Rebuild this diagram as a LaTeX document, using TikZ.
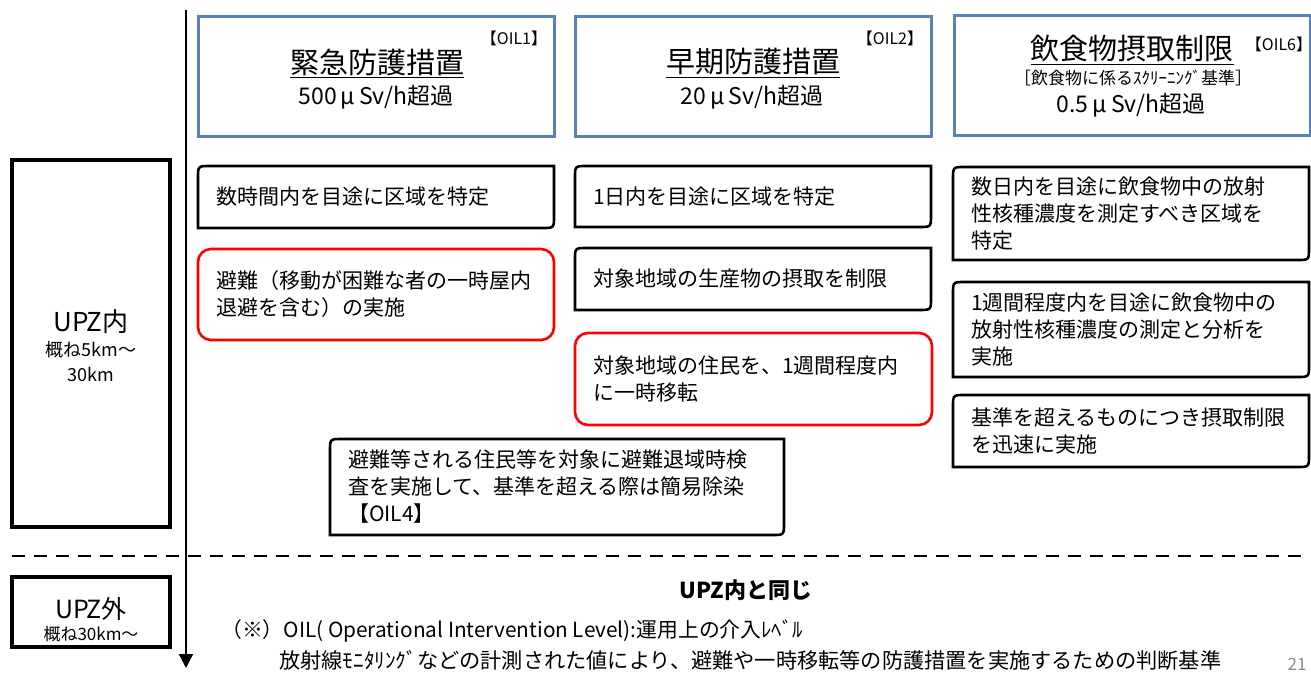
\documentclass[tikz,border=0pt]{standalone}
\usepackage{fontspec}
\setmainfont{Noto Sans CJK JP}
\usetikzlibrary{arrows.meta}
\definecolor{oilblue}{HTML}{5A82B8}
\definecolor{alertred}{HTML}{FF0000}
\newcommand{\fs}[2]{\fontsize{#1}{#2}\selectfont}
\newcommand{\diagframe}[1]{\draw[line width=2.6pt] ([yshift=-12pt]#1.north west) .. controls (#1.north west) .. ([xshift=12pt]#1.north west) -- (#1.north east) -- ([yshift=12pt]#1.south east) .. controls (#1.south east) .. ([xshift=-12pt]#1.south east) -- (#1.south west) -- cycle;}
\tikzset{
  actbox/.style={anchor=north west, inner xsep=18pt, inner ysep=0pt, outer sep=0pt, align=left, font=\fs{21}{27}},
  redbox/.style={actbox, draw=alertred, line width=2.6pt, rounded corners=13pt},
  oilbox/.style={anchor=north west, draw=oilblue, line width=3pt, inner sep=0pt, outer sep=0pt},
  zonebox/.style={anchor=north west, draw, line width=3.2pt, inner sep=0pt, outer sep=0pt},
  headtxt/.style={font=\fs{29}{32}, inner sep=0pt},
  valtxt/.style={font=\fs{23}{26}, inner sep=0pt},
  oiltag/.style={font=\fs{16}{18}, inner sep=0pt},
}
\begin{document}
\begin{tikzpicture}[x=1pt, y=-1pt]
\fill[white] (0,0) rectangle (1311,675);
\useasboundingbox (0,0) rectangle (1311,675);

% axis arrow and separator
\coordinate (axtop) at (186,10);
\coordinate (axbot) at (186,668);
\draw[line width=2pt, -{Triangle[length=14pt,width=14pt]}] (axtop) -- (axbot);
\coordinate (dl) at (12,556);
\coordinate (dr) at (1302,556);
\draw[line width=2.4pt, dash pattern=on 13pt off 9pt] (dl) -- (dr);

% header boxes
\node[oilbox, minimum width=356pt, minimum height=120pt] (h1) at (198,16) {};
\node[oilbox, minimum width=356pt, minimum height=120pt] (h2) at (575,16) {};
\node[oilbox, minimum width=356pt, minimum height=120pt] (h6) at (954,15) {};

\node[headtxt] (h1t) at (377,63) {\underline{緊急防護措置}};
\node[valtxt] (h1v) at (376,97) {500\kern4pt μ\kern4pt Sv/h超過};
\node[oiltag] (h1o) at (514,38) {【OIL1】};

\node[headtxt] (h2t) at (753,63) {\underline{早期防護措置}};
\node[valtxt] (h2v) at (752,97) {20\kern4pt μ\kern4pt Sv/h超過};
\node[oiltag] (h2o) at (890,38) {【OIL2】};

\node[headtxt] (h6t) at (1132,50) {\underline{飲食物摂取制限}};
\node[font=\fs{17}{18}, inner sep=0pt] (h6s) at (1133,78) {［飲食物に係るｽｸﾘｰﾆﾝｸﾞ基準］};
\node[valtxt] (h6v) at (1131,105) {0.5\kern4pt μ\kern4pt Sv/h超過};
\node[oiltag] (h6o) at (1279,44) {【OIL6】};

% zone boxes
\node[zonebox, minimum width=158pt, minimum height=367pt] (upzin) at (12,160) {};
\node[font=\fs{26}{28}, inner sep=0pt] (upzinA) at (91,322) {UPZ内};
\node[font=\fs{18}{20}, inner sep=0pt] (upzinB) at (91,350) {概ね5km〜};
\node[font=\fs{18}{20}, inner sep=0pt] (upzinC) at (91,374) {30km};

\node[zonebox, minimum width=158pt, minimum height=70pt] (upzout) at (12,577) {};
\node[font=\fs{25}{28}, inner sep=0pt] (upzoutA) at (91,609) {UPZ外};
\node[font=\fs{17}{20}, inner sep=0pt] (upzoutB) at (91,634) {概ね30km〜};

% OIL1 column
\node[actbox, minimum width=356pt, minimum height=62pt, text width=320pt] (b1a) at (198,166) {数時間内を目途に区域を特定};
\diagframe{b1a}
\node[redbox, minimum width=356pt, minimum height=91pt, text width=320pt] (b1b) at (198,249) {避難（移動が困難な者の一時屋内\\退避を含む）の実施};

% OIL2 column
\node[actbox, minimum width=356pt, minimum height=61pt, text width=320pt] (b2a) at (575,166) {1日内を目途に区域を特定};
\diagframe{b2a}
\node[actbox, minimum width=356pt, minimum height=62pt, text width=320pt] (b2b) at (575,248) {対象地域の生産物の摂取を制限};
\diagframe{b2b}
\node[redbox, minimum width=357pt, minimum height=92pt, text width=321pt] (b2c) at (575,333) {対象地域の住民を、1週間程度内\\に一時移転};

% OIL4
\node[actbox, minimum width=454pt, minimum height=96pt, text width=418pt] (b4) at (330,439) {避難等される住民等を対象に避難退域時検\\査を実施して、基準を超える際は簡易除染\\【OIL4】};
\diagframe{b4}

% OIL6 column
\node[actbox, minimum width=356pt, minimum height=93pt, text width=320pt] (b6a) at (953,167) {数日内を目途に飲食物中の放射\\性核種濃度を測定すべき区域を\\特定};
\diagframe{b6a}
\node[actbox, minimum width=356pt, minimum height=95pt, text width=320pt] (b6b) at (953,282) {1週間程度内を目途に飲食物中の\\放射性核種濃度の測定と分析を\\実施};
\diagframe{b6b}
\node[actbox, minimum width=356pt, minimum height=72pt, text width=320pt] (b6c) at (953,395) {基準を超えるものにつき摂取制限\\を迅速に実施};
\diagframe{b6c}

% bottom texts
\node[font=\fs{22}{26}\bfseries, inner sep=0pt] (same) at (746,590) {UPZ内と同じ};
\node[anchor=west, font=\fs{20.8}{22}, inner sep=0pt] (fn1) at (221,631) {（※）OIL( Operational Intervention Level):運用上の介入ﾚﾍﾞﾙ};
\node[anchor=west, font=\fs{21.2}{22}, inner sep=0pt] (fn2) at (279,660) {放射線ﾓﾆﾀﾘﾝｸﾞなどの計測された値により、避難や一時移転等の防護措置を実施するための判断基準};
\node[font=\fs{17}{20}, text=black!45, inner sep=0pt] (pg) at (1297,664) {21};
\end{tikzpicture}
\end{document}
